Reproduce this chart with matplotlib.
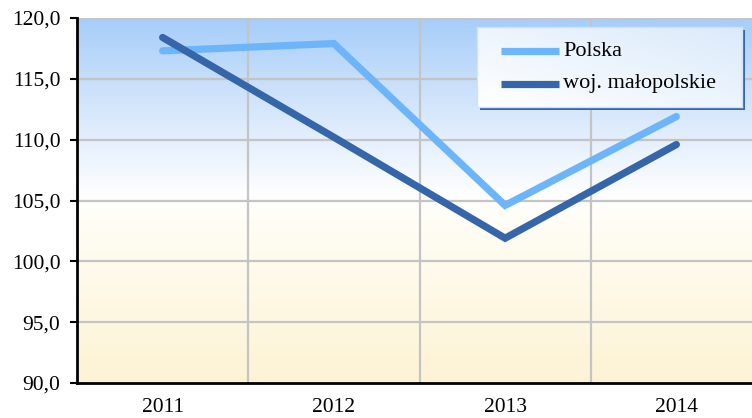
import matplotlib
matplotlib.use('Agg')
import matplotlib.pyplot as plt
import numpy as np
from matplotlib.colors import LinearSegmentedColormap
from matplotlib.patches import Rectangle

# dane: dynamika (rok poprzedni = 100)
lata = ['2011', '2012', '2013', '2014']
polska = [117.3, 117.9, 104.6, 111.9]
malopolskie = [118.4, 110.2, 101.9, 109.6]

plt.rcParams['font.family'] = ['Liberation Serif', 'DejaVu Serif']

fig = plt.figure(figsize=(7.52, 4.18), dpi=100)
# obszar wykresu wychodzi poza prawą krawędź rysunku
ax = fig.add_axes([77 / 752, 35 / 418, 685 / 752, 365 / 418])

x = np.arange(len(lata))
ax.set_xlim(-0.5, len(lata) - 0.5)
ax.set_ylim(90, 120)

# tło gradientowe: niebieski u góry, biały w środku, kremowy na dole
cmap = LinearSegmentedColormap.from_list('tlo', [
    (0.0, '#fdf3d4'), (0.45, '#fffdf6'), (0.52, '#fdfeff'), (0.72, '#dbeafc'), (1.0, '#a6cdf9')])
grad = np.linspace(0, 1, 256).reshape(-1, 1)
ax.imshow(grad, cmap=cmap, aspect='auto', origin='lower',
          extent=[-0.5, len(lata) - 0.5, 90, 120], zorder=0)

# siatka
for gx in np.arange(0.5, len(lata) - 0.5, 1):
    ax.axvline(gx, color='#c4c4c4', lw=1.6, zorder=1)
for gy in np.arange(95, 121, 5):
    ax.axhline(gy, color='#c4c4c4', lw=1.6, zorder=1)

ax.plot(x, polska, color='#6db5fb', lw=5.2, solid_capstyle='round',
        solid_joinstyle='miter', label='Polska', zorder=3)
ax.plot(x, malopolskie, color='#3566aa', lw=5.2, solid_capstyle='round',
        solid_joinstyle='miter', label='woj. małopolskie', zorder=4)

ax.set_xticks(x)
ax.set_xticklabels(lata)
ax.set_yticks(np.arange(90, 121, 5))
ax.set_yticklabels([f'{v:.1f}'.replace('.', ',') for v in np.arange(90, 121, 5)])
ax.tick_params(axis='y', length=5, width=1.5, labelsize=15.5, pad=7)
ax.tick_params(axis='x', length=0, labelsize=15.5, pad=11)

for s in ['top', 'right']:
    ax.spines[s].set_visible(False)
ax.spines['left'].set_linewidth(2)
ax.spines['bottom'].set_linewidth(2)
ax.spines['left'].set_zorder(5)
ax.spines['bottom'].set_zorder(5)

# legenda z cieniem i gradientem
lx0, ly0, lw_, lh_ = 477 / 752, 1 - 107 / 418, 265 / 752, 80 / 418
fig.patches.append(Rectangle((lx0 + 3 / 752, ly0 - 3 / 418), lw_, lh_,
                             transform=fig.transFigure, facecolor='#3566aa',
                             edgecolor='none', zorder=1))
lax = fig.add_axes([lx0, ly0, lw_, lh_])
lax.set_zorder(10)
lcmap = LinearSegmentedColormap.from_list('leg', ['#ffffff', '#dbeafb'])
lg = np.linspace(0, 1, 64)
lax.imshow(np.add.outer(lg[::-1], lg) / 2, cmap=lcmap, aspect='auto',
           extent=[0, 1, 0, 1], origin='upper')
lax.set_xlim(0, 1)
lax.set_ylim(0, 1)
lax.set_xticks([])
lax.set_yticks([])
for s in lax.spines.values():
    s.set_color('#cfe2f7')
    s.set_linewidth(1)
lax.plot([0.09, 0.31], [0.7, 0.7], color='#6db5fb', lw=5.2, solid_capstyle='butt')
lax.plot([0.09, 0.31], [0.29, 0.29], color='#3566aa', lw=5.2, solid_capstyle='butt')
lax.text(0.325, 0.7, 'Polska', fontsize=16, va='center', ha='left')
lax.text(0.325, 0.29, 'woj. małopolskie', fontsize=16, va='center', ha='left')

fig.savefig('out.png', dpi=100)
